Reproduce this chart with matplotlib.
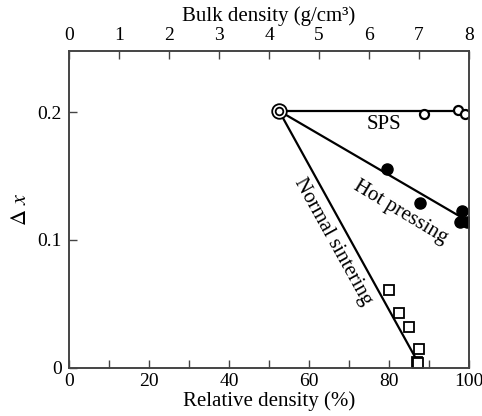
import matplotlib
matplotlib.use("Agg")
import matplotlib.pyplot as plt
from matplotlib.ticker import MultipleLocator

plt.rcParams['font.family'] = ['Liberation Serif', 'DejaVu Serif']
plt.rcParams['mathtext.fontset'] = 'stix'

# start point shared by all three routes
start_rel = [52.5]
start_dx = [0.201]

# SPS (open circles)
sps_rel = [88.8, 97.2, 99.0]
sps_dx = [0.1985, 0.2018, 0.1985]
sps_fit_rel = [52.5, 99.0]
sps_fit_dx = [0.201, 0.201]

# hot pressing (filled circles)
hp_rel = [79.6, 87.7, 98.3, 97.8, 99.4]
hp_dx = [0.1556, 0.1292, 0.1227, 0.1143, 0.1143]
hp_fit_rel = [52.5, 98.5]
hp_fit_dx = [0.201, 0.117]

# normal sintering (open squares)
ns_rel = [80.0, 82.5, 85.1, 87.5, 86.9, 87.2]
ns_dx = [0.0608, 0.0426, 0.0321, 0.0144, 0.0047, 0.0040]
ns_fit_rel = [52.5, 88.0]
ns_fit_dx = [0.201, 0.0]

bottom_ticks = [0, 20, 40, 60, 80, 100]
top_ticks = [0, 1, 2, 3, 4, 5, 6, 7, 8]
y_ticks = [0, 0.1, 0.2]
y_labels = ["0", "0.1", "0.2"]

fig = plt.figure(figsize=(4.82, 4.16), dpi=100)
ax = fig.add_axes([0.1432, 0.116, 0.8298, 0.762])

lw = 1.6
ax.plot(sps_fit_rel, sps_fit_dx, color='black', lw=lw, zorder=2)
ax.plot(hp_fit_rel, hp_fit_dx, color='black', lw=lw, zorder=2)
ax.plot(ns_fit_rel, ns_fit_dx, color='black', lw=lw, zorder=2)

ax.plot(sps_rel, sps_dx, 'o', ms=6.5, mfc='white', mec='black', mew=1.6, zorder=3)
ax.plot(hp_rel, hp_dx, 'o', ms=8, mfc='black', mec='black', zorder=3)
ax.plot(ns_rel, ns_dx, 's', ms=7.5, mfc='white', mec='black', mew=1.3, zorder=3)
ax.plot(start_rel, start_dx, 'o', ms=10.5, mfc='white', mec='black', mew=1.3, zorder=4)
ax.plot(start_rel, start_dx, 'o', ms=5.5, mfc='white', mec='black', mew=1.3, zorder=5)

ax.set_xlim(0, 100)
ax.set_ylim(0, 0.248)
ax.set_xticks(bottom_ticks)
ax.xaxis.set_minor_locator(MultipleLocator(10))
ax.set_yticks(y_ticks)
ax.set_yticklabels(y_labels)
ax.tick_params(which='both', direction='in', length=6, width=1.0, labelsize=14, color='#444444')
ax.tick_params(axis='x', pad=4)
ax.tick_params(axis='y', pad=5)
for s in ax.spines.values():
    s.set_color('#444444')
    s.set_linewidth(1.2)

ax.set_xlabel("Relative density (%)", fontsize=15, labelpad=1)
ax.set_ylabel(r"$\Delta\ x$", fontsize=16, labelpad=5)

top = ax.twiny()
top.set_xlim(0, 8)
top.set_xticks(top_ticks)
top.tick_params(direction='in', length=6, width=1.0, labelsize=14, color='#444444', pad=5)
top.set_xlabel("Bulk density (g/cm³)", fontsize=15, labelpad=4)
for s in top.spines.values():
    s.set_color('#444444')
    s.set_linewidth(1.2)

ax.text(78.75, 0.1905, "SPS", fontsize=15, ha='center', va='center')
ax.text(82.75, 0.1215, "Hot pressing", fontsize=15, ha='center', va='center', rotation=-31,
        rotation_mode='anchor')
ax.text(66, 0.0984, "Normal sintering", fontsize=15, ha='center', va='center', rotation=-61,
        rotation_mode='anchor')

fig.savefig("out.png", dpi=100)
